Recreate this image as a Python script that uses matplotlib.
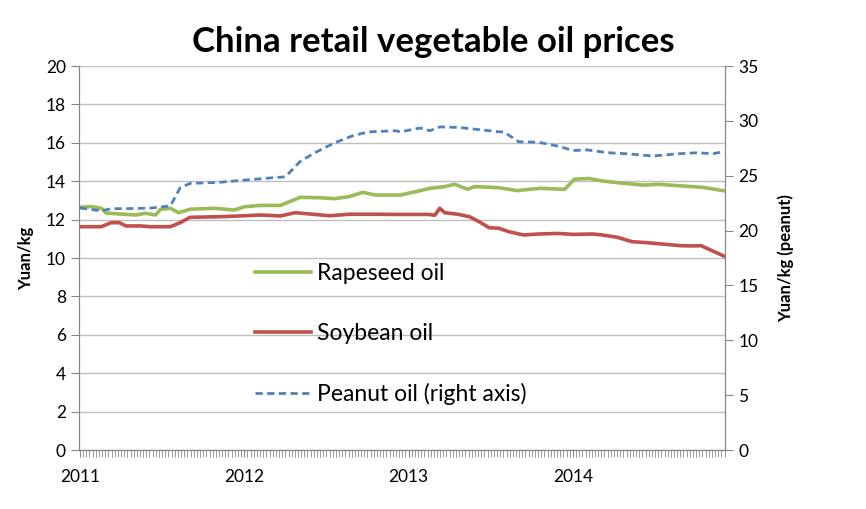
import matplotlib
matplotlib.use("Agg")
import matplotlib.pyplot as plt
from matplotlib.ticker import MultipleLocator, FixedLocator
from matplotlib.lines import Line2D

plt.rcParams['font.family'] = ['Lato', 'DejaVu Sans']

# decimal years
rape_x = [2011.00, 2011.07, 2011.13, 2011.16, 2011.25, 2011.34, 2011.40, 2011.46, 2011.49,
          2011.55, 2011.60, 2011.67, 2011.82, 2011.94, 2012.00, 2012.10, 2012.22, 2012.34,
          2012.46, 2012.55, 2012.64, 2012.72, 2012.80, 2012.92, 2012.95, 2013.04, 2013.13,
          2013.22, 2013.28, 2013.36, 2013.40, 2013.55, 2013.66, 2013.80, 2013.95, 2014.01,
          2014.10, 2014.19, 2014.31, 2014.43, 2014.52, 2014.67, 2014.79, 2014.92]
rape_y = [12.64, 12.68, 12.59, 12.34, 12.29, 12.24, 12.33, 12.24, 12.54,
          12.59, 12.36, 12.54, 12.59, 12.50, 12.67, 12.74, 12.74, 13.16,
          13.14, 13.09, 13.20, 13.42, 13.28, 13.28, 13.28, 13.45, 13.63,
          13.72, 13.84, 13.58, 13.72, 13.66, 13.51, 13.63, 13.58, 14.11,
          14.14, 14.00, 13.89, 13.80, 13.84, 13.75, 13.68, 13.50]

soy_x = [2011.00, 2011.13, 2011.19, 2011.24, 2011.28, 2011.37, 2011.43, 2011.55, 2011.61,
         2011.67, 2011.85, 2011.97, 2012.10, 2012.22, 2012.31, 2012.43, 2012.52, 2012.64,
         2012.82, 2012.91, 2013.00, 2013.12, 2013.16, 2013.19, 2013.22, 2013.30, 2013.37,
         2013.43, 2013.49, 2013.55, 2013.61, 2013.70, 2013.79, 2013.91, 2014.00, 2014.12,
         2014.18, 2014.27, 2014.36, 2014.45, 2014.54, 2014.66, 2014.72, 2014.78, 2014.92]
soy_y = [11.63, 11.63, 11.84, 11.84, 11.67, 11.67, 11.63, 11.63, 11.84,
         12.12, 12.15, 12.19, 12.24, 12.19, 12.36, 12.27, 12.20, 12.28,
         12.28, 12.27, 12.27, 12.27, 12.23, 12.59, 12.36, 12.28, 12.15,
         11.89, 11.58, 11.55, 11.37, 11.20, 11.25, 11.28, 11.23, 11.25,
         11.20, 11.08, 10.85, 10.80, 10.73, 10.64, 10.63, 10.64, 10.10]

peanut_x = [2011.00, 2011.13, 2011.19, 2011.28, 2011.43, 2011.52, 2011.55, 2011.61, 2011.67,
            2011.85, 2012.00, 2012.16, 2012.25, 2012.34, 2012.43, 2012.55, 2012.67, 2012.76,
            2012.92, 2012.95, 2013.07, 2013.13, 2013.19, 2013.31, 2013.43, 2013.55, 2013.58,
            2013.67, 2013.79, 2013.91, 2014.00, 2014.09, 2014.21, 2014.33, 2014.49, 2014.64,
            2014.76, 2014.85, 2014.92]
peanut_y = [22.06, 21.80, 22.00, 22.00, 22.05, 22.20, 22.25, 23.90, 24.30,
            24.40, 24.60, 24.80, 24.90, 26.30, 27.10, 28.00, 28.70, 29.00,
            29.10, 29.00, 29.35, 29.10, 29.45, 29.40, 29.20, 29.00, 29.00,
            28.10, 28.05, 27.70, 27.30, 27.35, 27.10, 27.00, 26.80, 27.00,
            27.10, 27.00, 27.20]

year_labels = ['2011', '2012', '2013', '2014']

green = '#9BBB59'
red = '#C0504D'
blue = '#4F81BD'
grey = '#868686'

fig = plt.figure(figsize=(8.66, 5.09), dpi=100)
ax = fig.add_axes([0.0912, 0.1159, 0.746, 0.7544])
ax2 = ax.twinx()

ax.plot(rape_x, rape_y, color=green, lw=2.6, solid_joinstyle='round')
ax.plot(soy_x, soy_y, color=red, lw=2.6, solid_joinstyle='round')
ax2.plot(peanut_x, peanut_y, color=blue, lw=2.0, dashes=(2.6, 1.6))

ax.set_xlim(2010.994, 2014.926)
ax.set_ylim(0, 20)
ax2.set_ylim(0, 35)
ax.yaxis.set_major_locator(MultipleLocator(2))
ax2.yaxis.set_major_locator(MultipleLocator(5))
ax.grid(axis='y', color='#bfbfbf', lw=1)
ax.set_axisbelow(True)

ax.xaxis.set_major_locator(FixedLocator([2011, 2012, 2013, 2014]))
ax.set_xticklabels(year_labels)
ax.xaxis.set_minor_locator(MultipleLocator(1 / 52))
ax.tick_params(axis='x', which='both', length=5, color=grey, labelsize=12.5, pad=9)
ax.tick_params(axis='y', length=6, color=grey, labelsize=12.5)
ax2.tick_params(axis='y', length=6, color=grey, labelsize=12.5)

for a in (ax, ax2):
    for s in a.spines.values():
        s.set_color(grey)
    a.spines['top'].set_visible(False)

ax.set_ylabel('Yuan/kg', fontsize=12, fontweight='bold', labelpad=8)
ax2.set_ylabel('Yuan/kg (peanut)', fontsize=12, fontweight='bold', rotation=90, labelpad=14)

fig.text(0.5, 0.917, 'China retail vegetable oil prices', ha='center', va='center',
         fontsize=25, fontweight='bold')

handles = [Line2D([], [], color=green, lw=2.6),
           Line2D([], [], color=red, lw=2.6),
           Line2D([], [], color=blue, lw=2.0, dashes=(2.6, 1.6))]
ax.legend(handles, ['Rapeseed oil', 'Soybean oil', 'Peanut oil (right axis)'],
          loc='upper left', bbox_to_anchor=(0.24, 0.54), frameon=False, fontsize=16.5,
          labelspacing=1.69, handlelength=2.45, handletextpad=0.26)

fig.savefig('out.png', dpi=100)
